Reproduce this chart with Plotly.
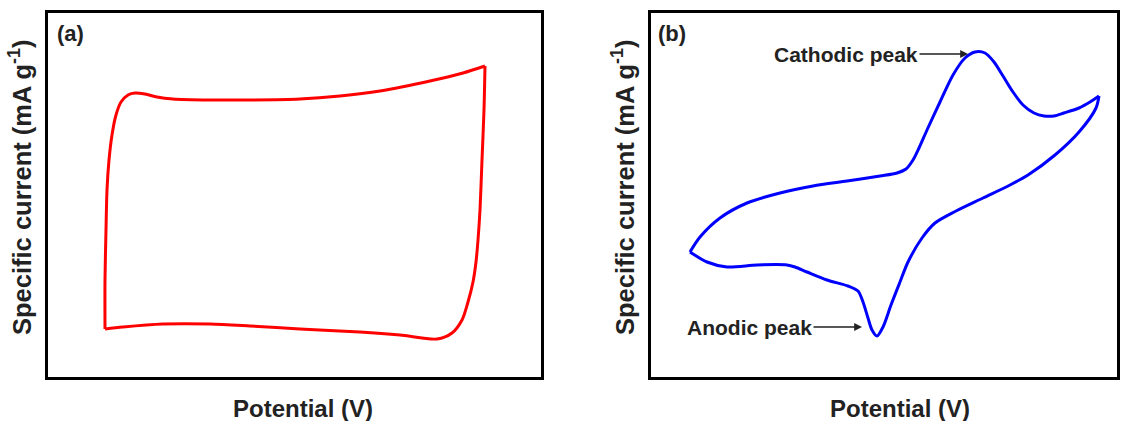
import plotly.graph_objects as go

# ---- panel (a): rectangular CV loop (potential in V, current in arbitrary mA g^-1 units)
a_potential = [0.114, 0.114, 0.116, 0.118, 0.122, 0.128, 0.136, 0.146, 0.160, 0.174,
               0.194, 0.218, 0.250, 0.324, 0.404, 0.504, 0.584, 0.664, 0.764, 0.830,
               0.874, 0.872, 0.868, 0.864, 0.860, 0.856, 0.850, 0.840, 0.828, 0.808,
               0.778, 0.704, 0.624, 0.504, 0.404, 0.324, 0.230, 0.150, 0.114]
a_current = [-1.29, -0.80, -0.30, 0.10, 0.40, 0.65, 0.85, 0.98, 1.05, 1.07,
             1.06, 1.03, 1.01, 1.00, 1.00, 1.01, 1.04, 1.09, 1.19, 1.27,
             1.34, 0.90, 0.40, -0.10, -0.40, -0.62, -0.82, -1.02, -1.20, -1.33,
             -1.39, -1.35, -1.32, -1.29, -1.26, -1.24, -1.24, -1.27, -1.29]
a_turn = 20  # index of the vertex where the sweep reverses

# ---- panel (b): CV loop with redox peaks
b_potential = [0.078, 0.098, 0.138, 0.192, 0.258, 0.324, 0.392, 0.458, 0.492, 0.510,
               0.524, 0.536, 0.552, 0.578, 0.604, 0.628, 0.648, 0.668, 0.686, 0.704,
               0.724, 0.744, 0.766, 0.786, 0.806, 0.826, 0.856, 0.878, 0.896, 0.890,
               0.856, 0.808, 0.754, 0.718, 0.664, 0.610, 0.568, 0.542, 0.514, 0.498,
               0.480, 0.464, 0.452, 0.442, 0.434, 0.424, 0.414, 0.394, 0.352, 0.312,
               0.288, 0.272, 0.212, 0.152, 0.112, 0.078]
b_current = [-0.52, -0.37, -0.18, -0.03, 0.07, 0.14, 0.19, 0.24, 0.27, 0.31,
             0.40, 0.52, 0.70, 0.98, 1.25, 1.42, 1.48, 1.47, 1.38, 1.24,
             1.08, 0.95, 0.87, 0.84, 0.84, 0.87, 0.92, 0.98, 1.04, 0.92,
             0.68, 0.45, 0.25, 0.15, 0.02, -0.11, -0.23, -0.38, -0.62, -0.82,
             -1.05, -1.27, -1.36, -1.30, -1.18, -1.02, -0.91, -0.86, -0.80, -0.72,
             -0.67, -0.65, -0.65, -0.67, -0.62, -0.52]
b_turn = 28

cathodic_peak = (0.634, 1.46)
anodic_peak = (0.422, -1.27)
arrow_length = 0.100

W, H = 1128, 421
FONT = "Arial, Liberation Sans, sans-serif"


def px(x):
    return x / W


def py(y):
    return 1 - y / H


fig = go.Figure()


def add_loop(xs, ys, turn, color, xa, ya):
    # forward and reverse sweeps drawn separately so the turning points stay sharp
    for seg in (slice(0, turn + 1), slice(turn, None)):
        fig.add_trace(go.Scatter(
            x=xs[seg], y=ys[seg], mode="lines",
            line=dict(color=color, width=3, shape="spline", smoothing=0.8),
            xaxis=xa, yaxis=ya, showlegend=False, hoverinfo="skip"))


add_loop(a_potential, a_current, a_turn, "#ff0000", "x", "y")
add_loop(b_potential, b_current, b_turn, "#0000ff", "x2", "y2")

frame = dict(showline=True, linecolor="black", linewidth=3, mirror=True,
             showgrid=False, zeroline=False, showticklabels=False, ticks="",
             fixedrange=True)
ydom = [py(377), py(13)]
fig.update_layout(
    width=W, height=H,
    margin=dict(l=0, r=0, t=0, b=0),
    paper_bgcolor="white", plot_bgcolor="white",
    xaxis=dict(domain=[px(48), px(541)], range=[0, 0.986], **frame),
    yaxis=dict(domain=ydom, range=[-1.77, 1.87], **frame),
    xaxis2=dict(domain=[px(651), px(1117)], range=[0, 0.932], anchor="y2", **frame),
    yaxis2=dict(domain=ydom, range=[-1.77, 1.87], anchor="x2", **frame),
    font=dict(family=FONT, color="#222222"),
)

ytitle = "<b>Specific current (mA g<sup>-1</sup>)</b>"
xtitle = "<b>Potential (V)</b>"
anns = [
    dict(x=px(20), y=py(187), text=ytitle, textangle=-90, size=25.5),
    dict(x=px(623), y=py(187), text=ytitle, textangle=-90, size=25.5),
    dict(x=px(303), y=py(408), text=xtitle, size=24),
    dict(x=px(900), y=py(408), text=xtitle, size=24),
]
for a in anns:
    size = a.pop("size")
    fig.add_annotation(xref="paper", yref="paper", showarrow=False,
                       font=dict(family=FONT, size=size, color="#222222"),
                       xanchor="center", yanchor="middle", **a)

for label, x in (("(a)", 55), ("(b)", 656)):
    fig.add_annotation(xref="paper", yref="paper", x=px(x), y=py(33), text=f"<b>{label}</b>",
                       showarrow=False, xanchor="left", yanchor="middle",
                       font=dict(family=FONT, size=22, color="#222222"))

peak_font = dict(family=FONT, size=21, color="#222222")
for name, (xp, yp) in (("Cathodic peak", cathodic_peak), ("Anodic peak", anodic_peak)):
    tail = xp - arrow_length
    fig.add_annotation(xref="x2", yref="y2", axref="x2", ayref="y2",
                       x=xp, y=yp, ax=tail, ay=yp, text="", showarrow=True,
                       arrowhead=2, arrowsize=1.2, arrowwidth=1.3, arrowcolor="#222222")
    fig.add_annotation(xref="x2", yref="y2", x=tail, y=yp, text=f"<b>{name}</b>",
                       showarrow=False, xanchor="right", yanchor="middle", font=peak_font,
                       xshift=2)

fig.write_html("out.html")
